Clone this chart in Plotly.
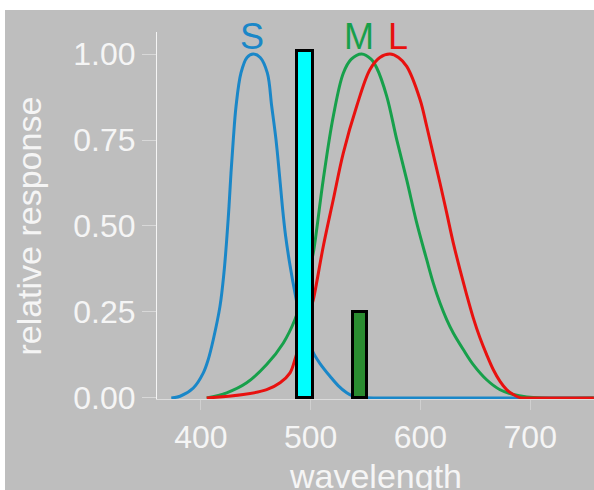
import plotly.graph_objects as go

# ---- data ----
s_nm = [373, 381, 393.1, 402.2, 406.7, 411.3, 417.4, 421.0, 423.5, 425.6, 427.4, 429.5, 432.0,
        436.5, 442, 447.7, 454, 460.5, 464.5, 468.4, 471.4, 474.2, 477.2, 481.2, 485.7, 490,
        495, 500, 503.3, 508.5, 517.6, 525, 532.8, 537.4, 545, 560, 600, 650, 700, 758]
s_val = [0, 0.005, 0.029, 0.073, 0.112, 0.170, 0.267, 0.364, 0.460, 0.557, 0.654, 0.751, 0.848,
         0.945, 0.99, 1.0, 0.99, 0.945, 0.848, 0.751, 0.654, 0.557, 0.47, 0.385, 0.305, 0.24,
         0.19, 0.148, 0.126, 0.100, 0.063, 0.036, 0.015, 0.007, 0.002, 0, 0, 0, 0, 0]

m_nm = [405.3, 423.5, 441.7, 459.9, 475.1, 485.7, 490, 495, 500, 502.4, 511.5, 520.6, 529.7,
        537, 546.5, 555, 560.1, 569.3, 578.4, 587.5, 596.6, 605.7, 611.7, 617.8, 623.9, 629.9,
        639.0, 648.1, 660.3, 672.5, 684.6, 696.8, 710, 758]
m_val = [0, 0.015, 0.044, 0.097, 0.160, 0.228, 0.27, 0.325, 0.39, 0.422, 0.636, 0.819, 0.944,
         0.985, 1.0, 0.985, 0.96, 0.877, 0.751, 0.634, 0.509, 0.402, 0.334, 0.276, 0.228, 0.189,
         0.141, 0.097, 0.053, 0.024, 0.010, 0.003, 0, 0]

l_nm = [405.3, 438.6, 459.9, 472.1, 481.2, 485.7, 490, 495, 500, 502.4, 511.5, 520.6, 529.7,
        541.9, 554.0, 563, 572.3, 580, 587.5, 599.6, 605.7, 611.7, 617.8, 623.9, 629.9, 636.0,
        642.1, 648.1, 654.2, 660.3, 666.4, 672.5, 678.5, 684.6, 690.7, 697, 710, 758]
l_val = [0, 0.0098, 0.024, 0.044, 0.073, 0.112, 0.16, 0.21, 0.26, 0.286, 0.441, 0.577, 0.712,
         0.848, 0.955, 0.99, 1.0, 0.99, 0.964, 0.868, 0.79, 0.708, 0.625, 0.538, 0.451, 0.373,
         0.300, 0.233, 0.175, 0.126, 0.082, 0.048, 0.024, 0.010, 0.001, 0, 0, 0]

bar_x = [495, 545.1]
bar_w = [14.9, 12.4]
bar_h = [1.01, 0.25]
bar_colors = ["#00ffff", "#2a8c30"]

labels = ["S", "M", "L"]
label_x = [446.5, 544, 579.5]
label_y = [1.051, 1.051, 1.051]

x_ticks = [400, 500, 600, 700]
y_ticks = [0, 0.25, 0.5, 0.75, 1.0]
y_ticktext = ["0.00", "0.25", "0.50", "0.75", "1.00"]

line_colors = ["#1a87c8", "#17a04b", "#e8110f"]

BG = "#bebebe"
FG = "#f5f5f5"
FONT = "Liberation Sans, Arial, sans-serif"

fig = go.Figure()
for xs, ys, c in [(s_nm, s_val, line_colors[0]), (m_nm, m_val, line_colors[1]), (l_nm, l_val, line_colors[2])]:
    fig.add_trace(go.Scatter(x=xs, y=ys, mode="lines", line=dict(color=c, width=3, shape="spline", smoothing=1.0),
                             showlegend=False, hoverinfo="skip"))

fig.add_trace(go.Bar(x=bar_x, y=bar_h, width=bar_w, marker=dict(color=bar_colors, line=dict(color="black", width=3)),
                     xaxis="x2", yaxis="y2", showlegend=False, hoverinfo="skip"))

XR = [360, 758.1]
YR = [-0.003, 1.064]
W, H = 594, 490
ML, MR, MT, MB = 157, 0, 32, 91
pw, ph = W - ML - MR, H - MT - MB

fig.update_layout(
    width=W, height=H,
    margin=dict(l=ML, r=MR, t=MT, b=MB, pad=0),
    paper_bgcolor=BG, plot_bgcolor=BG,
    font=dict(family=FONT, color=FG),
    xaxis=dict(range=XR, tickvals=x_ticks, showline=True, linecolor="#dcdcdc", linewidth=1,
               ticks="outside", ticklen=10, tickcolor="#d0d0d0", tickwidth=1,
               tickfont=dict(size=32, color=FG, family=FONT), showgrid=False, zeroline=False),
    yaxis=dict(range=YR, tickvals=y_ticks, ticktext=y_ticktext, showline=True, linecolor=FG, linewidth=1,
               ticks="outside", ticklen=14, tickcolor="#d8d8d8", tickwidth=1,
               tickfont=dict(size=32, color=FG, family=FONT), showgrid=False, zeroline=False),
    xaxis2=dict(range=XR, overlaying="x", visible=False),
    yaxis2=dict(range=YR, overlaying="y", visible=False),
    bargap=0,
)

for t, x, y, c in zip(labels, label_x, label_y, line_colors):
    fig.add_annotation(text=t, x=x, y=y, xref="x", yref="y", showarrow=False, yanchor="middle",
                       font=dict(size=36, color=c, family=FONT))

fig.add_annotation(text="wavelength", x=0.5, y=(399.4 - 476) / ph, xref="paper", yref="paper",
                   showarrow=False, yanchor="middle", font=dict(size=34, color=FG, family=FONT))
fig.add_annotation(text="relative response", x=(29 - ML) / pw, y=(399.4 - 227) / ph, xref="paper", yref="paper",
                   showarrow=False, textangle=-90, xanchor="center", yanchor="middle",
                   font=dict(size=34, color=FG, family=FONT))

# white strips at top and left of the picture
fig.add_shape(type="rect", xref="paper", yref="paper", x0=-ML / pw - 0.02, x1=1.02,
              y0=1 + (MT - 10) / ph, y1=1 + MT / ph + 0.02, fillcolor="white", line_width=0, layer="above")
fig.add_shape(type="rect", xref="paper", yref="paper", x0=-ML / pw - 0.02, x1=-(ML - 5) / pw,
              y0=-MB / ph - 0.02, y1=1 + MT / ph + 0.02, fillcolor="white", line_width=0, layer="above")

fig.write_html("out.html", config={"displayModeBar": False},
               post_script="document.body.style.margin='0px';document.body.style.overflow='hidden';")
